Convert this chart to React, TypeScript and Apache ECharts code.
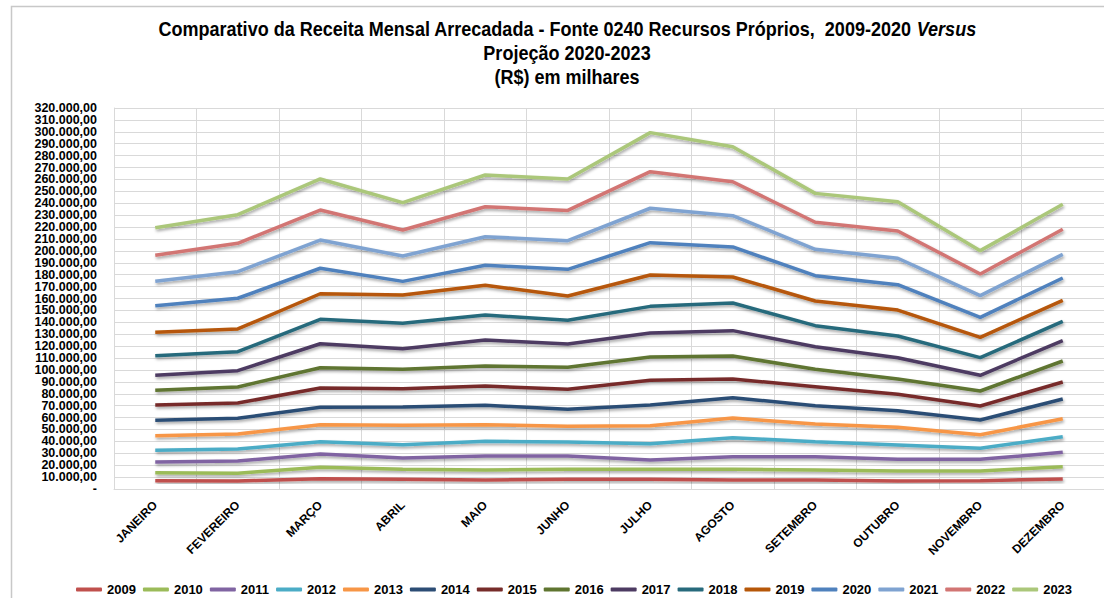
import React, { useEffect, useRef } from "react";
import * as echarts from "echarts";

const months = ["JANEIRO", "FEVEREIRO", "MARÇO", "ABRIL", "MAIO", "JUNHO", "JULHO", "AGOSTO", "SETEMBRO", "OUTUBRO", "NOVEMBRO", "DEZEMBRO"];

const years = ["2009", "2010", "2011", "2012", "2013", "2014", "2015", "2016", "2017", "2018", "2019", "2020", "2021", "2022", "2023"];

const colors = ["#C0504D", "#9BBB59", "#8064A2", "#4BACC6", "#F79646", "#2C4D75", "#772C2A", "#5F7530", "#4D3B62", "#276A7C", "#B65708", "#4F81BD", "#7FA3D1", "#D27573", "#ABC77A"];

const v2009 = [7000, 6700, 8700, 8100, 7600, 8100, 8100, 7600, 7600, 6700, 7000, 8400];
const v2010 = [13700, 13200, 18200, 16500, 16000, 16500, 16500, 16500, 16000, 15100, 15100, 18700];
const v2011 = [22700, 23500, 29400, 26000, 27700, 27700, 24400, 27100, 27100, 24900, 24900, 30800];
const v2012 = [32500, 33600, 39700, 37200, 40100, 39500, 38100, 43100, 39700, 37000, 34200, 43900];
const v2013 = [44800, 46200, 54000, 53500, 54000, 52700, 53200, 59600, 54600, 51800, 45600, 59000];
const v2014 = [57700, 59400, 68600, 68900, 70300, 66900, 70600, 76700, 70000, 65800, 58000, 75600];
const v2015 = [70600, 72200, 84800, 84200, 86500, 83700, 91300, 92400, 85900, 79500, 69700, 89900];
const v2016 = [82900, 85700, 101900, 100500, 103300, 102200, 110900, 111700, 100500, 92400, 82300, 107500];
const v2017 = [95500, 99400, 122000, 117800, 125100, 121800, 131000, 133000, 119500, 110300, 95500, 124600];
const v2018 = [112000, 115300, 142500, 139200, 146100, 141700, 153400, 156200, 137200, 128500, 110300, 140800];
const v2019 = [131600, 134400, 164000, 162900, 171100, 162100, 179700, 178100, 157900, 150300, 127400, 158500];
const v2020 = [154000, 160200, 185400, 174400, 187900, 184500, 206900, 203300, 179200, 171600, 144200, 177200];
const v2021 = [174400, 182500, 209100, 195700, 211900, 208600, 235800, 229600, 201300, 193800, 162400, 197100];
const v2022 = [196300, 206400, 234300, 217500, 237100, 234000, 266500, 258100, 224000, 216700, 180600, 218100];
const v2023 = [219500, 230400, 260400, 240500, 263700, 260400, 299300, 287500, 248300, 241300, 200200, 239100];

const seriesValues = [v2009, v2010, v2011, v2012, v2013, v2014, v2015, v2016, v2017, v2018, v2019, v2020, v2021, v2022, v2023];

const yMin = 0;
const yMax = 320000;
const yInterval = 10000;

const titleLine1 = "Comparativo da Receita Mensal Arrecadada - Fonte 0240 Recursos Próprios,  2009-2020 ";
const titleItalic = "Versus";
const titleLine2 = "Projeção 2020-2023";
const titleLine3 = "(R$) em milhares";

const fmtY = (v: number) => (v === 0 ? "-" : `${v / 1000}.000,00`);

export default function App() {
  const ref = useRef<HTMLDivElement>(null);
  useEffect(() => {
    if (!ref.current) return;
    const chart = echarts.init(ref.current, null, { renderer: "svg" });
    const titleFont = "'Liberation Sans', Arial, sans-serif";
    const labelFont = "'Liberation Sans', Arial, sans-serif";
    const tStyle = { fontFamily: titleFont, fontWeight: "bold", fontSize: 19.5, fill: "#000" };
    const tScale = 0.925;
    const yLabelBase = {
      margin: 17,
      fontFamily: labelFont,
      fontWeight: "bold",
      fontSize: 12.5,
      color: "#000",
    };
    chart.setOption({
      animation: false,
      backgroundColor: "#ffffff",
      graphic: [
        {
          type: "rect",
          shape: { x: 11.5, y: 6.5, width: 1200, height: 800 },
          style: { fill: "none", stroke: "#c8c8c8", lineWidth: 1.5 },
          silent: true,
        },
        {
          type: "text",
          x: 567,
          y: 29,
          scaleX: tScale,
          silent: true,
          style: {
            text: "{b|" + titleLine1 + "}{i|" + titleItalic + "}",
            align: "center",
            verticalAlign: "middle",
            rich: {
              b: { fontFamily: titleFont, fontWeight: "bold", fontSize: 19.5, color: "#000" },
              i: { fontFamily: titleFont, fontWeight: "bold", fontStyle: "italic", fontSize: 19.5, color: "#000" },
            },
          },
        },
        {
          type: "text",
          x: 567,
          y: 53,
          scaleX: tScale,
          silent: true,
          style: { ...tStyle, text: titleLine2, align: "center", verticalAlign: "middle" },
        },
        {
          type: "text",
          x: 567,
          y: 77,
          scaleX: tScale,
          silent: true,
          style: { ...tStyle, text: titleLine3, align: "center", verticalAlign: "middle" },
        },
      ],
      legend: {
        left: 71,
        top: 578,
        itemWidth: 26,
        itemHeight: 4,
        itemGap: 7,
        icon: "roundRect",
        data: years,
        textStyle: { fontFamily: labelFont, fontWeight: "bold", fontSize: 13, color: "#000" },
      },
      grid: { left: 114, top: 108, right: -5, bottom: 109, containLabel: false },
      xAxis: {
        type: "category",
        data: months,
        boundaryGap: true,
        axisLine: { show: true, lineStyle: { color: "#d9d9d9", width: 1 } },
        axisTick: { show: false },
        splitLine: { show: true, lineStyle: { color: "#d9d9d9", width: 1 } },
        axisLabel: {
          rotate: 45,
          margin: 14,
          interval: 0,
          fontFamily: labelFont,
          fontWeight: "bold",
          fontSize: 12,
          color: "#000",
        },
      },
      yAxis: [
        {
          type: "value",
          min: yMin,
          max: yMax,
          interval: yInterval,
          axisLine: { show: true, lineStyle: { color: "#d9d9d9", width: 1 } },
          axisTick: { show: false },
          splitLine: { show: true, lineStyle: { color: "#d9d9d9", width: 1 } },
          axisLabel: {
            ...yLabelBase,
            showMinLabel: true,
            showMaxLabel: true,
            formatter: fmtY,
          },
        },
        {
          type: "value",
          position: "left",
          min: yMin,
          max: yMax,
          interval: yInterval,
          axisLine: { show: false },
          axisTick: { show: false },
          splitLine: { show: false },
          axisLabel: {
            ...yLabelBase,
            showMinLabel: false,
            showMaxLabel: false,
            formatter: (v: number) => (v === yMin + yInterval || v === yMax - yInterval ? fmtY(v) : ""),
          },
        },
      ],
      series: years.map((y, i) => ({
        name: y,
        type: "line",
        yAxisIndex: 0,
        data: seriesValues[i],
        symbol: "none",
        color: colors[i],
        lineStyle: {
          width: 3.5,
          color: colors[i],
          shadowColor: "rgba(0,0,0,0.35)",
          shadowBlur: 3,
          shadowOffsetX: 1,
          shadowOffsetY: 2,
        },
        itemStyle: { color: colors[i] },
      })),
    });
    return () => chart.dispose();
  }, []);
  return <div ref={ref} style={{ position: "fixed", left: 0, top: 0, width: 1104, height: 598 }} />;
}
